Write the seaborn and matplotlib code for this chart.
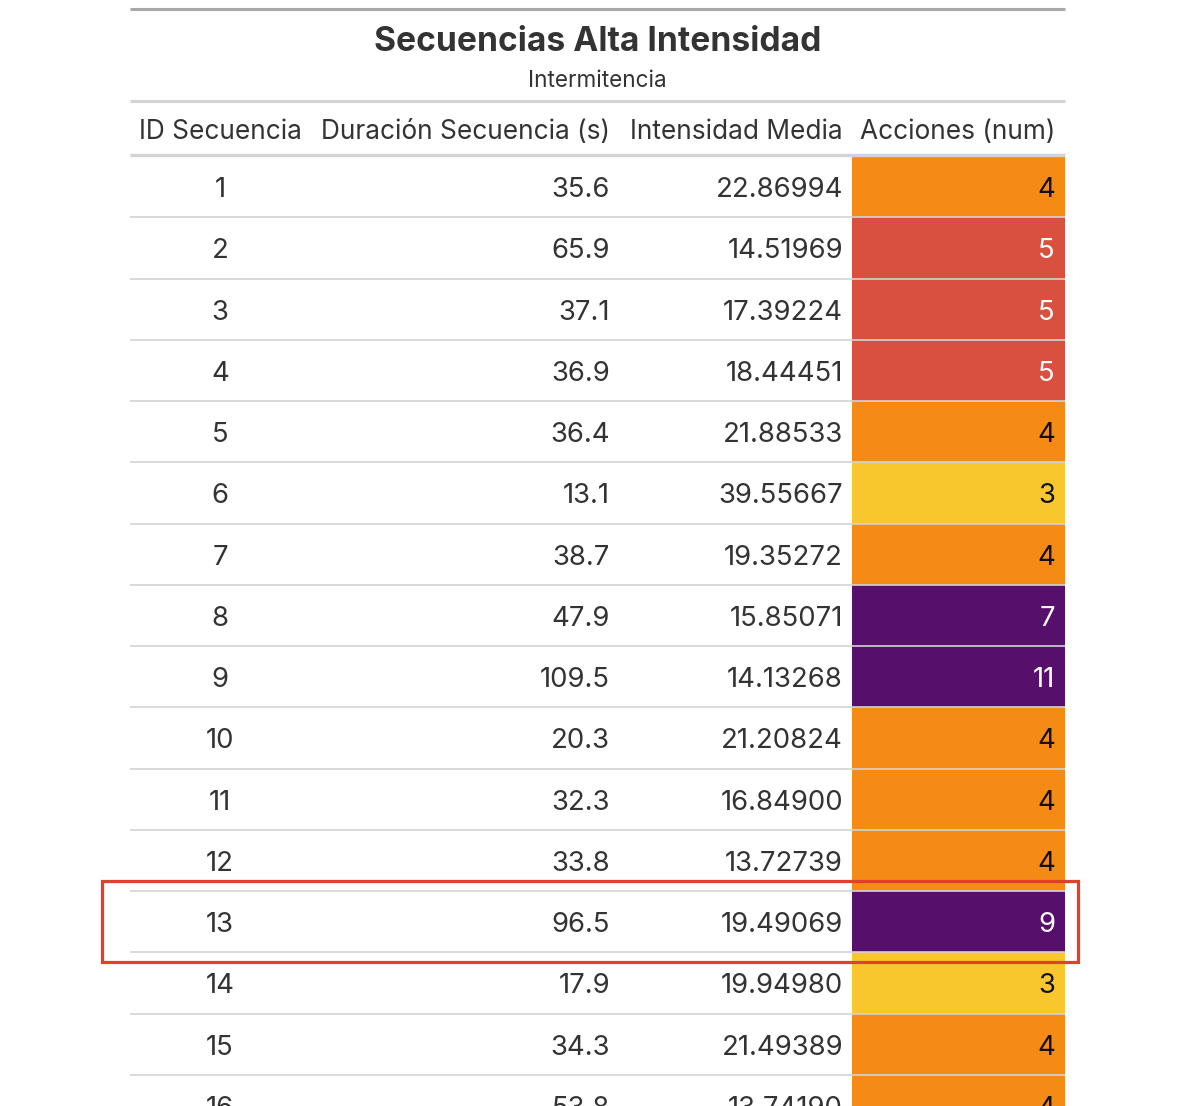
import matplotlib
matplotlib.use('Agg')
import numpy as np
import pandas as pd
import matplotlib.pyplot as plt
import seaborn as sns
from matplotlib.colors import ListedColormap
from matplotlib.patches import Rectangle

title = 'Secuencias Alta Intensidad'
subtitle = 'Intermitencia'
headers = ['ID Secuencia', 'Duración Secuencia (s)', 'Intensidad Media', 'Acciones (num)']

ids = list(range(1, 17))
duracion = [35.6, 65.9, 37.1, 36.9, 36.4, 13.1, 38.7, 47.9, 109.5, 20.3, 32.3, 33.8, 96.5, 17.9, 34.3, 53.8]
intensidad = [22.86994, 14.51969, 17.39224, 18.44451, 21.88533, 39.55667, 19.35272, 15.85071,
              14.13268, 21.20824, 16.84900, 13.72739, 19.49069, 19.94980, 21.49389, 13.74190]
acciones = [4, 5, 5, 5, 4, 3, 4, 7, 11, 4, 4, 4, 9, 3, 4, 4]
highlight_id = 13

# colour per number of actions, 3..11
accion_colors = ['#F8C72E', '#F58A14', '#D9503E'] + ['#56106B'] * 6
accion_text = {3: '#111111', 4: '#111111'}

data = pd.DataFrame({
    'id': ids,
    'duracion': duracion,
    'intensidad': intensidad,
    'acciones': acciones,
})


def main():
    sns.set_style('white')
    plt.rcParams['font.family'] = ['Inter', 'DejaVu Sans']
    W, H = 1200, 1106
    fig = plt.figure(figsize=(W / 100, H / 100), dpi=100)

    # geometry in pixels
    left, right = 130, 1065
    body_top = 156
    row_h = 61.25
    col_x0 = 852
    n = len(data)
    body_bottom = body_top + row_h * n

    # coloured column as a heatmap
    hax = fig.add_axes([col_x0 / W, 1 - body_bottom / H, (right - col_x0) / W, (body_bottom - body_top) / H])
    sns.heatmap(
        data[['acciones']],
        ax=hax,
        cmap=ListedColormap(accion_colors),
        vmin=2.5, vmax=11.5,
        cbar=False,
        xticklabels=False,
        yticklabels=False,
    )
    hax.set_zorder(0)

    ax = fig.add_axes([0, 0, 1, 1])
    ax.set_zorder(1)
    ax.patch.set_alpha(0)
    ax.set_xlim(0, W)
    ax.set_ylim(H, 0)
    ax.axis('off')

    txt = '#333333'
    ax.plot([left, right], [9, 9], color='#A8A8A8', lw=2.2, solid_capstyle='butt')
    ax.text((left + right) / 2, 42, title, ha='center', va='center', fontsize=24.2,
            fontweight='bold', color=txt)
    ax.text((left + right) / 2, 81, subtitle, ha='center', va='center', fontsize=16.2, color=txt)
    ax.plot([left, right], [101, 101], color='#D3D3D3', lw=2.2, solid_capstyle='butt')

    hy = 132
    fs_h = 18.9
    fs = 19.8
    ax.text(220, hy, headers[0], ha='center', va='center', fontsize=fs_h, color=txt)
    ax.text(610, hy, headers[1], ha='right', va='center', fontsize=fs_h, color=txt)
    ax.text(843, hy, headers[2], ha='right', va='center', fontsize=fs_h, color=txt)
    ax.text(1055, hy, headers[3], ha='right', va='center', fontsize=fs_h, color=txt)
    ax.plot([left, right], [155, 155], color='#D3D3D3', lw=2.4, solid_capstyle='butt')

    for i, row in data.iterrows():
        yc = body_top + row_h * (i + 0.5) + 3.5
        ax.text(220, yc, f'{row.id:.0f}', ha='center', va='center', fontsize=fs, color=txt)
        ax.text(610, yc, f'{row.duracion:.1f}', ha='right', va='center', fontsize=fs, color=txt)
        ax.text(843, yc, f'{row.intensidad:.5f}', ha='right', va='center', fontsize=fs, color=txt)
        a = int(row.acciones)
        ax.text(1055, yc, f'{a}', ha='right', va='center', fontsize=fs,
                color=accion_text.get(a, 'white'))
        if i > 0:
            yl = body_top + row_h * i
            ax.plot([left, right], [yl, yl], color='#D3D3D3', lw=1.2, solid_capstyle='butt')

    # highlight box
    k = ids.index(highlight_id)
    ytop = body_top + row_h * k - 10
    ax.add_patch(Rectangle((102, ytop), 976, row_h + 20, fill=False,
                           edgecolor='#E0412C', lw=2.3))

    fig.savefig('out.png', dpi=100)


if __name__ == '__main__':
    main()
